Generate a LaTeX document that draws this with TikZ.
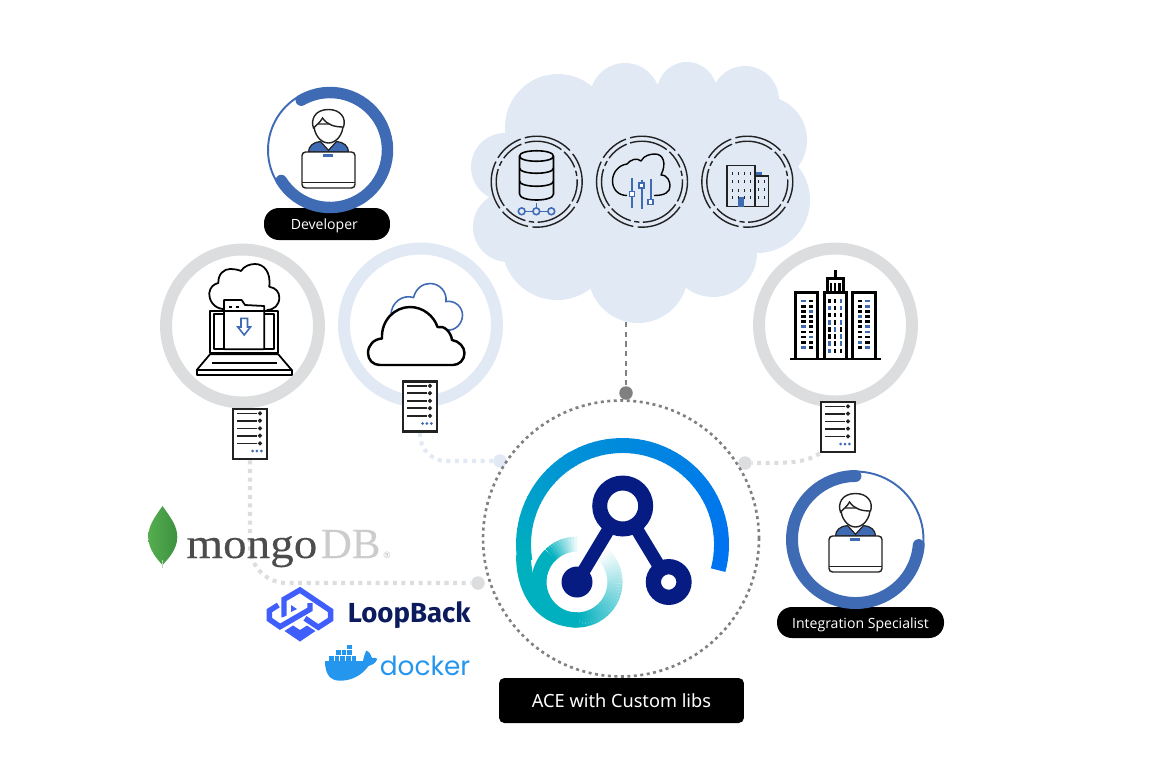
\documentclass[tikz,border=0pt]{standalone}
\usepackage{fontspec}
\setmainfont{Open Sans}
\newfontfamily\acefont{Noto Sans}
\newfontfamily\mongofont[FakeStretch=1.1,FakeBold=0.25]{Liberation Serif}
\newfontfamily\dbfont[FakeBold=0.15]{Liberation Serif}
\newfontfamily\loopfont{Fira Sans}
\newfontfamily\dockerfont{Poppins}
\usetikzlibrary{positioning,calc}
\definecolor{ringgrey}{HTML}{DCDDDE}
\definecolor{ringblue}{HTML}{E1E9F5}
\definecolor{agentblue}{HTML}{3F6BB5}
\definecolor{linedark}{HTML}{222222}
\definecolor{hubgrey}{HTML}{808080}
\definecolor{logoblue}{HTML}{0073F0}
\definecolor{logosky}{HTML}{0092D6}
\definecolor{logoteal}{HTML}{00B0BE}
\definecolor{logonavy}{HTML}{061C82}
\definecolor{loopblue}{HTML}{3F5EFB}
\definecolor{loopnavy}{HTML}{0B1B5E}
\definecolor{dockblue}{HTML}{2496ED}
\definecolor{leaflight}{HTML}{55AE4F}
\definecolor{leafdark}{HTML}{3E9140}

\begin{document}
\begin{tikzpicture}[
    x=0.02cm,y=-0.02cm,
    ring/.style={circle,draw,fill=white,line width=6.8pt,minimum size=3.06cm,inner sep=0},
    serverbox/.style={draw=linedark,fill=white,line width=1.5pt,minimum width=0.68cm,minimum height=1cm,inner sep=0},
    pill/.style={fill=black,text=white,rounded corners=8.5pt,font=\fontsize{8}{10}\selectfont,inner sep=0},
    hubdot/.style={circle,fill,minimum size=0.27cm,inner sep=0},
    lightlink/.style={line width=2.3pt,dash pattern=on 2.3pt off 2.6pt},
    dashring/.style={circle,draw=linedark,line width=0.8pt,inner sep=0},
    iconline/.style={draw=black,line width=1pt,line join=round},
    thinblue/.style={draw=agentblue,line width=0.9pt},
    towerline/.style={black,line width=1.7pt},
    serverbits/.pic={
        \foreach \r in {5.7,13,20.7,28,35.7} {
            \draw[linedark,line width=1pt] (5.7,\r) -- (25,\r);
            \draw[linedark,fill=white,line width=0.8pt] (28.3,\r) circle[radius=1.3];
        }
        \foreach \d in {21,25.3,29.7}
            \fill[agentblue] (\d,43.3) circle[radius=1.5];
    },
    agent/.pic={
        \draw[fill=agentblue,draw=linedark,line width=0.7pt] (-20,0) .. controls (-20,-6) and (-15,-10) .. (-8,-10.5) -- (0,-1.7) -- (8,-10.5) .. controls (15,-10) and (20,-6) .. (20,0) -- cycle;
        \draw[fill=white,draw=linedark,line width=0.8pt] (-14.5,-28) .. controls (-15,-18) and (-8,-9) .. (0,-9) .. controls (8,-9) and (15,-18) .. (14.5,-28) -- cycle;
        \draw[fill=white,draw=linedark,line width=0.8pt] (-15,-24) .. controls (-18,-32) and (-14,-42.5) .. (0,-42.5) .. controls (12,-42.5) and (18,-34) .. (15,-25) .. controls (6,-25) and (-1,-27) .. (-6,-34) .. controls (-8,-30) and (-12,-27) .. (-15,-24) -- cycle;
        \draw[fill=white,draw=linedark,line width=0.8pt,rounded corners=2pt] (-26.5,0) -- (26.5,0) -- (26.5,36) -- (-26.5,36) -- cycle;
        \draw[linedark,line width=0.8pt] (-26.5,30.5) -- (26.5,30.5);
        \fill[agentblue] (-5.3,2.3) rectangle (4.7,5);
    },
]
\useasboundingbox (0,0) rectangle (1158,772);

% big cloud
\foreach \cx/\cy/\r in {558/127/53,625/98/35,687/92/30,745/100/34,763/140/44,757/200/53,713/253/44,638/273/50,557/245/55,508/227/35,505/167/34,640/170/88,640/230/60,570/190/60,710/170/66}
    \fill[ringblue] (\cx,\cy) circle[radius=\r];
\coordinate (cloudbase) at (626,322);

% links
\node[hubdot,fill=hubgrey] (dottop) at (626,393) {};
\node[hubdot,fill=ringgrey] (dotleft) at (478,583) {};
\node[hubdot,fill=ringblue] (dotmid) at (500,461) {};
\node[hubdot,fill=ringgrey] (dotright) at (745,463) {};
\node[serverbox] (serverleft) at (250,434) {};
\node[serverbox] (servermid) at (420,406.5) {};
\node[serverbox] (serverright) at (838,427) {};
\draw[hubgrey,line width=1.5pt,dash pattern=on 3pt off 2.5pt] (cloudbase) -- (dottop);
\draw[ringgrey,lightlink,rounded corners=21pt] (serverleft.south) |- (dotleft);
\draw[ringblue,lightlink,rounded corners=15pt] (servermid.south) |- (dotmid);
\draw[ringgrey,lightlink] (serverright.south west) .. controls (805,463) and (790,463) .. (dotright);

% rings
\node[ring,draw=ringgrey] (ringlaptop) at (242.5,326) {};
\node[ring,draw=ringblue] (ringcloud) at (420.5,325) {};
\node[ring,draw=ringgrey] (ringtower) at (835.5,325) {};
\node[serverbox] at (serverleft) {};
\node[serverbox] at (servermid) {};
\node[serverbox] at (serverright) {};
\pic at (serverleft.north west) {serverbits};
\pic at (servermid.north west) {serverbits};
\pic at (serverright.north west) {serverbits};

% people
\node[pill,minimum width=2.52cm,minimum height=0.64cm] (pilldev) at (327,224) {\raisebox{-3.4pt}[0pt][0pt]{Developer\hspace{3pt}}};
\node[pill,minimum width=3.34cm,minimum height=0.62cm] (pillint) at (860.5,622.5) {\raisebox{-3.3pt}[0pt][0pt]{Integration Specialist}};
\draw[agentblue,line width=1.1pt] (330,150) ++(148:62) arc[start angle=148,end angle=240,radius=62];
\draw[agentblue,line width=6.5pt,line cap=round] (330,150) ++(240:57.5) arc[start angle=240,end angle=508,radius=57.5];
\draw[agentblue,line width=1.1pt] (855.5,539.5) ++(270:68) arc[start angle=270,end angle=365,radius=68];
\draw[agentblue,line width=6.8pt,line cap=round] (855.5,539.5) ++(5:63.5) arc[start angle=5,end angle=270,radius=63.5];
\pic at (328.5,152) {agent};
\pic at (855.5,536) {agent};

% three icons in the cloud
\foreach \n/\cx in {db/536.7,tune/642,office/747.3} {
    \node[dashring,minimum size=1.82cm,dash pattern=on 17pt off 2.5pt on 28pt off 2.5pt] (ring\n) at (\cx,181.7) {};
    \node[dashring,minimum size=1.62cm,dash pattern=on 3pt off 2pt on 22pt off 2pt on 13pt off 2pt,rotate=40] (inner\n) at (\cx,181.7) {};
}
% database
\draw[iconline,line width=0.9pt] (519.5,156) .. controls (519.5,149) and (553.5,149) .. (553.5,156) .. controls (553.5,163) and (519.5,163) .. (519.5,156) -- (519.5,194) .. controls (519.5,202) and (553.5,202) .. (553.5,194) -- (553.5,156);
\draw[iconline,line width=0.9pt] (519.5,168) .. controls (519.5,175) and (553.5,175) .. (553.5,168);
\draw[iconline,line width=0.9pt] (519.5,181) .. controls (519.5,188) and (553.5,188) .. (553.5,181);
\draw[thinblue] (536.5,203) -- (536.5,208) (525,211.3) -- (533,211.3) (540,211.3) -- (548,211.3);
\foreach \cx in {521.7,536.3,551.3}
    \draw[thinblue] (\cx,211.3) circle[radius=3.4];
% cloud with sliders
\draw[iconline,line width=0.8pt] (627,195.5) .. controls (618,195.5) and (612.5,189) .. (612.5,181) .. controls (612.5,172) and (619,165) .. (627,164) .. controls (630,160) and (637,157) .. (641,161) .. controls (644,155) and (651,154) .. (655,154) .. controls (663,154) and (667,163) .. (661,175) .. controls (668,175) and (670,182) .. (670,186) .. controls (670,192) and (665,195.5) .. (654,195.5);
\foreach \sx/\st/\sb/\knob in {632/178/208/194,641.7/180/209/185.7,650.7/179/204/202} {
    \draw[thinblue] (\sx,\st) -- (\sx,\sb);
    \draw[thinblue,fill=white] (\sx-2.5,\knob-2.5) rectangle ++(5,5);
}
% office
\fill[agentblue] (755.7,171.7) rectangle (761.7,176);
\draw[linedark,line width=0.7pt] (727,165.7) rectangle (755,206.7) (755,176) rectangle (768.3,206.7);
\fill[agentblue] (738.3,196.7) rectangle (744,206.7);
\foreach \wx in {732.3,738.3,744,750}
    \foreach \wy in {173.3,181.7,190,197.7}
        \fill[linedark] (\wx-0.5,\wy-1.5) rectangle ++(1,3);
\foreach \wx in {758.7,764.7}
    \foreach \wy in {181.7,189.3,197.7}
        \fill[linedark] (\wx-0.5,\wy-1.5) rectangle ++(1,3);

% laptop and cloud
\draw[iconline] (223,309) .. controls (214,308) and (209,301) .. (209.3,293) .. controls (210,287) and (214,284) .. (218.3,283) .. controls (218,274) and (224,269) .. (230,269) .. controls (235,269) and (239,270) .. (241,271) .. controls (244,266) and (250,264) .. (255,264) .. controls (264,264) and (271,272) .. (269.3,286.7) .. controls (276,288) and (279.3,292) .. (279.3,297.7) .. controls (279.3,305) and (274,310) .. (266.7,310);
\draw[iconline,fill=white] (210,310.7) rectangle (278.3,353.3);
\draw[iconline] (214,314.3) rectangle (274,349.3);
\draw[iconline,fill=white] (224,349.3) -- (224,300) -- (241.7,300) -- (245,305) -- (264.3,306) -- (264.3,349.3) -- cycle;
\draw[iconline] (224,310.7) -- (264.3,310.7) (229,307) -- (232,307) (236,307) -- (239,307);
\draw[thinblue,line join=miter] (241,318.3) -- (247.5,318.3) -- (247.5,327) -- (250.5,327) -- (244.2,335) -- (237.8,327) -- (241,327) -- cycle;
\draw[iconline,fill=white] (210,354.3) -- (278.3,354.3) -- (291.7,370) -- (196.7,370) -- cycle;
\draw[iconline,fill=white] (196.7,370) rectangle (291.7,375);
\draw[iconline] (211.7,362.7) -- (277.3,362.7);

% cloud icon
\draw[thinblue] (391,315) .. controls (391,303) and (402,294) .. (413.5,297.5) .. controls (416,288) and (423,283.5) .. (430,283.5) .. controls (440,283.5) and (447,292) .. (446,301.5) .. controls (455,300) and (462.5,307) .. (462.5,315) .. controls (462.5,324) and (455,331) .. (447,330);
\draw[iconline,fill=white,line width=1.4pt] (380,365) .. controls (373,365) and (368,360) .. (368,353) .. controls (368,345) and (374,339) .. (382,338.5) .. controls (381,320) and (395,307) .. (410,307) .. controls (423,307) and (434,316) .. (437.5,327) .. controls (444,325) and (451,332) .. (452,340) .. controls (459,341) and (464.5,347) .. (464.5,353) .. controls (464.5,360) and (459,365) .. (453,365) -- cycle;

% towers
\draw[black,line width=1.6pt] (790,359) -- (880.7,359);
\draw[towerline] (795.7,359) -- (795.7,292.7) -- (817.7,292.7) -- (817.7,359);
\draw[towerline] (824.3,359) -- (824.3,292.7) -- (846.7,292.7) -- (846.7,359);
\draw[towerline] (852.7,359) -- (852.7,292.7) -- (875,292.7) -- (875,359);
\draw[towerline] (827.3,291.7) -- (827.3,278.3) -- (843.3,278.3) -- (843.3,291.7);
\draw[towerline] (835.3,270) -- (835.3,278);
\draw[black,line width=1.2pt] (831,283) -- (831,291) (835.3,283) -- (835.3,291) (839.5,283) -- (839.5,291);
\foreach \cx in {803.3,810.7,860,867.3}
    \foreach \r in {0,...,9}
        \fill[black] (\cx-2.2,301+5.15*\r-1.4) rectangle ++(4.4,2.8);
\foreach \cx/\r in {803.3/0,810.7/2,803.3/5,810.7/7,803.3/9,867.3/0,867.3/1,860/3,867.3/5,867.3/6,860/8,867.3/9}
    \fill[agentblue] (\cx-2.2,301+5.15*\r-1.4) rectangle ++(4.4,2.8);
\foreach \cx in {829.3,835,841}
    \foreach \r in {0,...,7}
        \fill[black] (\cx-1.4,301+7.1*\r-2.2) rectangle ++(2.8,4.4);
\foreach \cx/\r in {841/0,829.3/1,841/1,829.3/3,841/3,835/4,841/5,829.3/6,829.3/7,841/6}
    \fill[agentblue] (\cx-1.4,301+7.1*\r-2.2) rectangle ++(2.8,4.4);

% mark in the centre
\node[circle,draw=hubgrey,line width=1.5pt,dash pattern=on 1.7pt off 2pt,minimum size=5.52cm,inner sep=0] (acering) at (621,538.5) {};
\foreach \a [evaluate=\a as \p using {max(0,min(100,(\a+50)/135*100))}] in {-50,-46,...,90}
    \draw[logoteal!\p!white,line width=8.6pt] (577,582) ++(\a:38) arc[start angle=\a,delta angle=4.5,radius=38];
\foreach \a [evaluate=\a as \p using {max(0,min(100,(270-\a)/45*100))}] in {226,230,...,266}
    \draw[logoteal!\p!white,line width=8.6pt] (577,582) ++(\a:38) arc[start angle=\a,delta angle=4.5,radius=38];
\draw[logoteal,line width=8.6pt] (577,582) ++(90:38) arc[start angle=90,end angle=226,radius=38];
\draw[logoteal,line width=8.5pt] (523.5,555) .. controls (523.5,595) and (545,620) .. (577,620);
\foreach \a [evaluate=\a as \p using {max(0,min(100,(\a+120)/120*100))}] in {15,12,...,-120}
    \draw[logoblue!\p!logosky,line width=8.5pt] (622.5,544.5) ++(\a:99) arc[start angle=\a,delta angle=-3.5,radius=99];
\foreach \a [evaluate=\a as \p using {max(0,min(100,(\a+186)/66*100))}] in {-120,-123,...,-186}
    \draw[logosky!\p!logoteal,line width=8.5pt] (622.5,544.5) ++(\a:99) arc[start angle=\a,delta angle=-3.5,radius=99];
\draw[logonavy,line width=7.4pt] (622.7,506) -- (577,582) (622.7,506) -- (668.7,582);
\draw[logonavy,fill=white,line width=8.5pt] (622.7,506) circle[radius=23];
\fill[logonavy] (577,582) circle[radius=15.5];
\draw[logonavy,fill=white,line width=8.7pt] (668.7,582) circle[radius=15.3];
\node[fill=black,text=white,rounded corners=3pt,minimum width=4.9cm,minimum height=0.9cm,inner sep=0,font=\acefont\fontsize{10.35}{12}\selectfont] (acelabel) at (621.5,700.5) {ACE with Custom libs};

% mongo
\shade[left color=leaflight,right color=leafdark] (162.5,506) .. controls (154,518) and (148.3,526) .. (148.3,537) .. controls (148.3,550) and (158,560) .. (162.5,565) .. controls (167,560) and (177.3,550) .. (177.3,537) .. controls (177.3,526) and (171,518) .. (162.5,506) -- cycle;
\draw[leafdark!40!white,line width=0.7pt] (162.5,560) -- (162.5,568);
\node[anchor=base west,inner sep=0,text=black!70,font=\mongofont\fontsize{24.4}{26}\selectfont] (mongotext) at (186,558) {mongo};
\node[anchor=base west,inner sep=0,text=black!20,font=\dbfont\fontsize{24.4}{26}\selectfont] (dbtext) at (320.5,558) {DB};
\node[anchor=base west,inner sep=0,text=black!25,font=\fontsize{5}{6}\selectfont] (mongomark) at (383,558) {®};

% loopback
\draw[loopblue,line width=3.1pt,line join=miter] (284,617.3) -- (284,599.3) -- (300,590) -- (330.7,610.7) -- (330.7,619.3) -- (318.3,627.3) -- (305,618.3);
\draw[white,line width=4.6pt] (284,621.5) -- (306,610);
\draw[loopblue,line width=3.1pt,line join=miter] (278.3,605) -- (269.3,610.7) -- (269.3,619.3) -- (280,626.7) -- (310,609.3) -- (310,603);
\fill[loopblue] (284.5,631) -- (293,625.5) -- (300,630) -- (307,625.5) -- (315.5,631) -- (300,641.5) -- cycle;
\fill[loopblue] (291,605) -- (291,612) -- (297,609) -- cycle;
\node[anchor=base west,inner sep=0,text=loopnavy,font=\loopfont\bfseries\fontsize{15.7}{18}\selectfont] (looptext) at (347.5,622.7) {LoopBack};

% docker
\fill[dockblue] (325,661) -- (363,661) .. controls (364,655) and (366,652) .. (366,650.5) .. controls (370,652) and (371,655) .. (372,658) .. controls (374,657) and (376,658) .. (377.3,659) .. controls (375,664) and (372,665) .. (368.5,666) .. controls (362,675) and (352,680.7) .. (340,680.7) .. controls (330,680.7) and (325,674) .. (325,661) -- cycle;
\foreach \bx/\by in {329/656,334.7/656,340.3/656,346/656,351.7/656,336/650.3,341.7/650.3,347.3/650.3,347.3/644.5}
    \fill[dockblue] (\bx,\by) rectangle ++(4.7,4.7);
\node[anchor=base west,inner sep=0,text=dockblue,font=\dockerfont\fontsize{15}{17}\selectfont] (dockertext) at (379.5,675) {docker};
\end{tikzpicture}
\end{document}
